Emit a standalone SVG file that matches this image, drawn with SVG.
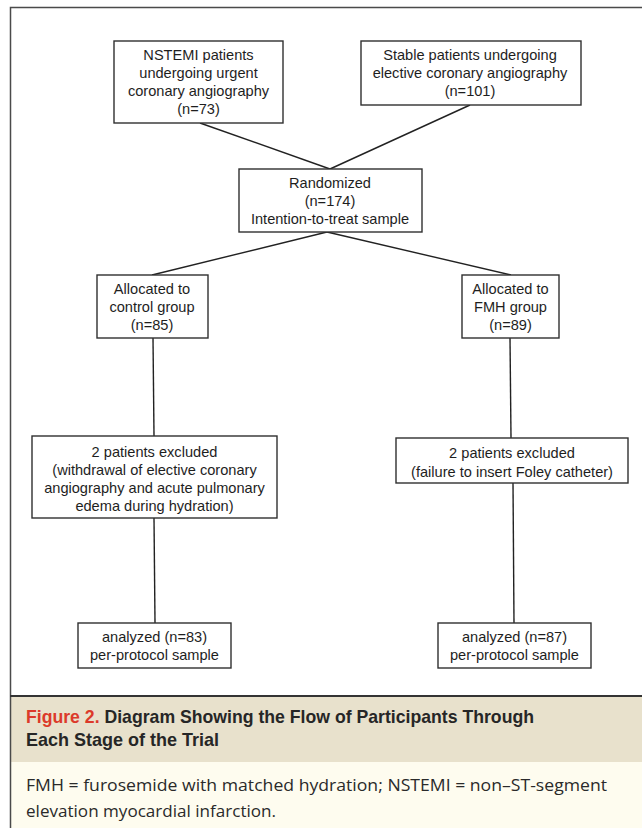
<svg xmlns="http://www.w3.org/2000/svg" width="642" height="828" viewBox="0 0 642 828">
<style>
  .box { fill: #ffffff; stroke: #2f2f2f; stroke-width: 1.4; }
  .t { font-family: "Liberation Sans", Arial, sans-serif; font-size: 14.6px; fill: #1e1e1e; text-anchor: middle; }
  .conn line { stroke: #222222; stroke-width: 1.4; }
  .cap { font-family: "Liberation Sans", Arial, sans-serif; font-weight: bold; font-size: 19px; fill: #262626; }
  .red { fill: #dc3a2a; }
  .body { font-family: "Open Sans", "Noto Sans", sans-serif; font-size: 17px; fill: #2a2a2a; }
</style>
<rect x="0" y="0" width="642" height="828" fill="#ffffff"/>
<!-- caption areas -->
<rect x="10" y="696" width="640" height="66" fill="#e8e1cc"/>
<rect x="10" y="762" width="640" height="70" fill="#fefcef"/>
<!-- frame -->
<path d="M10.5 829 V7.5 H650" fill="none" stroke="#4a4a4a" stroke-width="1.5"/>
<line x1="10" y1="696" x2="642" y2="696" stroke="#333333" stroke-width="2"/>

<g id="connectors" class="conn">
  <line x1="200" y1="123" x2="330" y2="169"/>
  <line x1="470" y1="105" x2="330" y2="169"/>
  <line x1="327" y1="232" x2="152" y2="275"/>
  <line x1="327" y1="232" x2="511" y2="275"/>
  <line x1="153" y1="338" x2="154" y2="436"/>
  <line x1="510" y1="338" x2="511" y2="438"/>
  <line x1="154" y1="518" x2="155" y2="623"/>
  <line x1="513" y1="483" x2="514" y2="623"/>
</g>

<g id="nstemi">
  <rect class="box" x="114" y="41" width="169" height="82"/>
  <text class="t" x="198.5" y="60">NSTEMI patients</text>
  <text class="t" x="198.5" y="78">undergoing urgent</text>
  <text class="t" x="198.5" y="96">coronary angiography</text>
  <text class="t" x="198.5" y="114">(n=73)</text>
</g>

<g id="stable">
  <rect class="box" x="361" y="41" width="220" height="64"/>
  <text class="t" x="470" y="60">Stable patients undergoing</text>
  <text class="t" x="470" y="78">elective coronary angiography</text>
  <text class="t" x="470" y="96">(n=101)</text>
</g>

<g id="randomized">
  <rect class="box" x="239" y="169" width="183" height="63"/>
  <text class="t" x="330" y="188">Randomized</text>
  <text class="t" x="330" y="206">(n=174)</text>
  <text class="t" x="330" y="224">Intention-to-treat sample</text>
</g>

<g id="control">
  <rect class="box" x="97" y="275" width="111" height="63"/>
  <text class="t" x="152" y="294">Allocated to</text>
  <text class="t" x="152" y="312">control group</text>
  <text class="t" x="152" y="330">(n=85)</text>
</g>

<g id="fmh">
  <rect class="box" x="462" y="275" width="97" height="63"/>
  <text class="t" x="510.5" y="294">Allocated to</text>
  <text class="t" x="510.5" y="312">FMH group</text>
  <text class="t" x="510.5" y="330">(n=89)</text>
</g>

<g id="excluded-left">
  <rect class="box" x="32" y="436" width="245" height="82"/>
  <text class="t" x="154.5" y="457">2 patients excluded</text>
  <text class="t" x="154.5" y="475">(withdrawal of elective coronary</text>
  <text class="t" x="154.5" y="493">angiography and acute pulmonary</text>
  <text class="t" x="154.5" y="511">edema during hydration)</text>
</g>

<g id="excluded-right">
  <rect class="box" x="396" y="438" width="232" height="45"/>
  <text class="t" x="512" y="458">2 patients excluded</text>
  <text class="t" x="512" y="477">(failure to insert Foley catheter)</text>
</g>

<g id="analyzed-left">
  <rect class="box" x="78" y="623" width="153" height="45"/>
  <text class="t" x="154.5" y="642">analyzed (n=83)</text>
  <text class="t" x="154.5" y="660">per-protocol sample</text>
</g>

<g id="analyzed-right">
  <rect class="box" x="438" y="623" width="153" height="45"/>
  <text class="t" x="514.5" y="642">analyzed (n=87)</text>
  <text class="t" x="514.5" y="660">per-protocol sample</text>
</g>

<g id="caption">
  <text class="cap" x="26" y="723" textLength="508" lengthAdjust="spacingAndGlyphs"><tspan class="red">Figure 2.</tspan> Diagram Showing the Flow of Participants Through</text>
  <text class="cap" x="26" y="746" textLength="193" lengthAdjust="spacingAndGlyphs">Each Stage of the Trial</text>
  <text class="body" x="26" y="791" textLength="581" lengthAdjust="spacingAndGlyphs">FMH = furosemide with matched hydration; NSTEMI = non–ST-segment</text>
  <text class="body" x="26" y="817" textLength="250" lengthAdjust="spacingAndGlyphs">elevation myocardial infarction.</text>
</g>
</svg>
